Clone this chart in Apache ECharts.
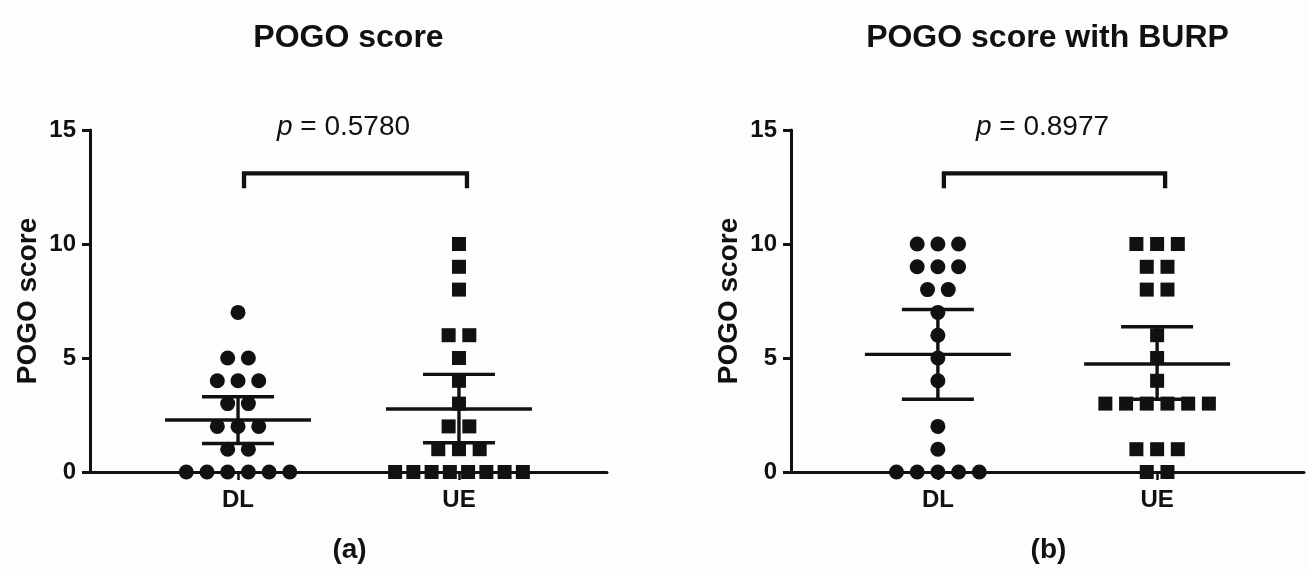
<!DOCTYPE html>
<html>
<head>
<meta charset="utf-8">
<script src="https://cdn.jsdelivr.net/npm/echarts@6/dist/echarts.min.js"></script>
<style>
html,body{margin:0;padding:0;background:#fdfdfd;}
#chart{width:1308px;height:571px;}
</style>
</head>
<body>
<div id="chart"></div>
<script>
// ---- data ----
const categories = ['DL', 'UE'];
const panelTitles = ['POGO score', 'POGO score with BURP'];
const panelLetters = ['(a)', '(b)'];
const yAxisName = 'POGO score';
const yTicks = [0, 5, 10, 15];
const pValues = ['0.5780', '0.8977'];

// panel (a): POGO score
const aDL = [7, 5, 5, 4, 4, 4, 3, 3, 2, 2, 2, 1, 1, 0, 0, 0, 0, 0, 0];
const aUE = [10, 9, 8, 6, 6, 5, 4, 3, 2, 2, 1, 1, 1, 0, 0, 0, 0, 0, 0, 0, 0];
const aMean = [2.28, 2.76];
const aLower = [1.25, 1.28];
const aUpper = [3.3, 4.28];

// panel (b): POGO score with BURP
const bDL = [10, 10, 10, 9, 9, 9, 8, 8, 7, 6, 5, 4, 2, 1, 0, 0, 0, 0, 0];
const bUE = [10, 10, 10, 9, 9, 8, 8, 6, 5, 4, 3, 3, 3, 3, 3, 3, 1, 1, 1, 0, 0];
const bMean = [5.16, 4.74];
const bLower = [3.19, 3.19];
const bUpper = [7.13, 6.37];

const bracketLevel = 13.1;

// ---- styling ----
const INK = '#111111';
const FONT = '"Liberation Sans", Arial, Helvetica, sans-serif';

function dotData(values, catIdx) {
  const counts = {};
  values.forEach(v => { counts[v] = (counts[v] || 0) + 1; });
  const seen = {};
  return values.map(v => {
    const n = counts[v];
    const k = seen[v] || 0;
    seen[v] = k + 1;
    const spacing = Math.min(20.7, 146 / n);
    const dx = (k - (n - 1) / 2) * spacing;
    return { value: [catIdx, v], symbolOffset: [dx, 0] };
  });
}

const grids = [
  { left: 90, top: 130, width: 517, height: 342 },
  { left: 791, top: 130, width: 513, height: 342 }
];

function xAxisFor(i) {
  return {
    gridIndex: i, type: 'value', min: -0.67, max: 1.67,
    splitLine: { show: false },
    axisLine: { onZero: false, lineStyle: { color: INK, width: 3 } },
    axisTick: { show: true, customValues: [0, 1], length: 8, lineStyle: { color: INK, width: 2.5 } },
    axisLabel: {
      customValues: [0, 1], margin: 16,
      formatter: v => categories[Math.round(v)] || '',
      color: INK, fontSize: 24, fontWeight: 'bold', fontFamily: FONT
    }
  };
}
function yAxisFor(i) {
  return {
    gridIndex: i, type: 'value', min: 0, max: 15, interval: 5,
    splitLine: { show: false },
    axisLine: { show: true, onZero: false, lineStyle: { color: INK, width: 3 } },
    axisTick: { show: true, length: 8, lineStyle: { color: INK, width: 3 } },
    axisLabel: { margin: 14, color: INK, fontSize: 24, fontWeight: 'bold', fontFamily: FONT,
      formatter: v => (yTicks.indexOf(v) >= 0 ? String(v) : '') },
    name: yAxisName, nameLocation: 'middle', nameGap: 48,
    nameTextStyle: { color: INK, fontSize: 28, fontWeight: 'bold', fontFamily: FONT }
  };
}

function errRender(params, api) {
  const x = api.value(0);
  const m = api.coord([x, api.value(1)]);
  const lo = api.coord([x, api.value(2)]);
  const hi = api.coord([x, api.value(3)]);
  const cx = m[0];
  const st = { stroke: INK, lineWidth: 3.4 };
  return {
    type: 'group', children: [
      { type: 'line', shape: { x1: cx - 73, y1: m[1], x2: cx + 73, y2: m[1] }, style: st },
      { type: 'line', shape: { x1: cx, y1: lo[1], x2: cx, y2: hi[1] }, style: st },
      { type: 'line', shape: { x1: cx - 36, y1: lo[1], x2: cx + 36, y2: lo[1] }, style: st },
      { type: 'line', shape: { x1: cx - 36, y1: hi[1], x2: cx + 36, y2: hi[1] }, style: st }
    ]
  };
}

function bracketRender(params, api) {
  const l = api.coord([api.value(0), api.value(2)]);
  const r = api.coord([api.value(1), api.value(2)]);
  const x1 = l[0] + 6, x2 = r[0] + 8, y = l[1];
  const pv = pValues[params.dataIndex === undefined ? 0 : api.value(3)];
  return {
    type: 'group', children: [
      { type: 'polyline', shape: { points: [[x1, y + 15], [x1, y], [x2, y], [x2, y + 15]] },
        style: { stroke: INK, lineWidth: 4.3, fill: null, lineJoin: 'miter' } },
      { type: 'text', x: (x1 + x2) / 2 - 12, y: y - 46,
        style: {
          text: '{i|p}{n| = ' + pv + '}',
          rich: {
            i: { fontStyle: 'italic', fontSize: 28, fontFamily: FONT, fill: INK },
            n: { fontSize: 28, fontFamily: FONT, fill: INK }
          },
          align: 'center', verticalAlign: 'middle', fill: INK
        } }
    ]
  };
}

const series = [];
[[aDL, aUE], [bDL, bUE]].forEach((pair, gi) => {
  series.push({
    type: 'scatter', xAxisIndex: gi, yAxisIndex: gi, symbol: 'circle', symbolSize: 15,
    itemStyle: { color: INK, opacity: 1 }, data: dotData(pair[0], 0), silent: true, z: 3
  });
  series.push({
    type: 'scatter', xAxisIndex: gi, yAxisIndex: gi, symbol: 'rect', symbolSize: 14,
    itemStyle: { color: INK, opacity: 1 }, data: dotData(pair[1], 1), silent: true, z: 3
  });
});
[[aMean, aLower, aUpper], [bMean, bLower, bUpper]].forEach((s, gi) => {
  series.push({
    type: 'custom', xAxisIndex: gi, yAxisIndex: gi, renderItem: errRender, silent: true, z: 4,
    data: categories.map((c, i) => [i, s[0][i], s[1][i], s[2][i]])
  });
  series.push({
    type: 'custom', xAxisIndex: gi, yAxisIndex: gi, renderItem: bracketRender, silent: true, z: 4,
    data: [[0, 1, bracketLevel, gi]]
  });
});

const graphic = [];
grids.forEach((g, i) => {
  const cx = g.left + g.width / 2;
  graphic.push({ type: 'text', x: cx, y: 38,
    style: { text: panelTitles[i], fontSize: 32, fontWeight: 'bold', fontFamily: FONT, fill: INK,
      align: 'center', verticalAlign: 'middle' } });
  graphic.push({ type: 'text', x: cx + 1, y: 550,
    style: { text: panelLetters[i], fontSize: 28, fontWeight: 'bold', fontFamily: FONT, fill: INK,
      align: 'center', verticalAlign: 'middle' } });
});

const chart = echarts.init(document.getElementById('chart'), null, { renderer: 'canvas' });
chart.setOption({
  backgroundColor: '#fdfdfd',
  animation: false,
  grid: grids,
  xAxis: [xAxisFor(0), xAxisFor(1)],
  yAxis: [yAxisFor(0), yAxisFor(1)],
  graphic: graphic,
  series: series
});
</script>
</body>
</html>
